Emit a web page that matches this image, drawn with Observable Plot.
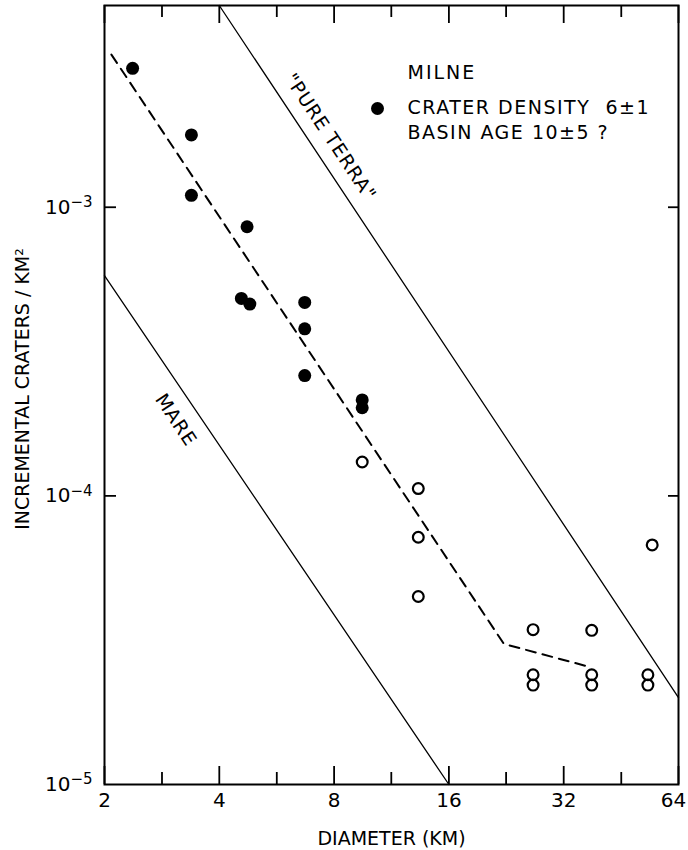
<!DOCTYPE html>
<html>
<head>
<meta charset="utf-8">
<script src="https://cdn.jsdelivr.net/npm/d3@7"></script>
<script src="https://cdn.jsdelivr.net/npm/@observablehq/plot@0.6"></script>
<style>
  body { margin: 0; background: #fff; }
</style>
</head>
<body>
<div id="chart"></div>
<script>
// ---- tick values & labels ----
const xMajorTicks = [2, 4, 8, 16, 32, 64];
const xMinorTicks = [2.83, 5.66, 11.3, 22.6, 45.3];
const yTicks = [1e-3, 1e-4, 1e-5];
const yTickBase = "10";
const yTickExponents = ["\u22123", "\u22124", "\u22125"];

// ---- Milne crater counts (filled: counted, open: larger craters) ----
const filledDiameter = [2.37, 3.38, 3.38, 4.73, 4.57, 4.81, 6.70, 6.70, 6.70, 9.48, 9.48];
const filledDensity  = [3.03e-3, 1.78e-3, 1.10e-3, 8.56e-4, 4.83e-4, 4.62e-4, 4.68e-4, 3.79e-4, 2.61e-4, 2.15e-4, 2.02e-4];
const openDiameter = [9.48, 13.3, 13.3, 13.3, 26.6, 26.6, 26.6, 37.9, 37.9, 37.9, 53.2, 53.2, 54.6];
const openDensity  = [1.31e-4, 1.06e-4, 7.19e-5, 4.48e-5, 3.44e-5, 2.40e-5, 2.21e-5, 3.42e-5, 2.40e-5, 2.21e-5, 2.40e-5, 2.21e-5, 6.76e-5];

// ---- dashed fit ----
const fitDiameter = [2.085, 22.3, 37.2];
const fitDensity  = [3.38e-3, 3.07e-5, 2.56e-5];

// ---- reference curves ----
const pureTerraDiameter = [4, 64];
const pureTerraDensity  = [5e-3, 2e-5];
const mareDiameter = [2, 16];
const mareDensity  = [5.8e-4, 1e-5];

// ---- text ----
const xLabel = "DIAMETER (KM)";
const yLabel = "INCREMENTAL CRATERS / KM\u00B2";
const pureTerraLabel = "\"PURE TERRA\"";
const mareLabel = "MARE";
const legendTitle = "MILNE";
const legendLine1 = "CRATER DENSITY\u00A0\u00A06\u00B11";
const legendLine2 = "BASIN AGE 10\u00B15 ?";

const zip = (xs, ys) => xs.map((d, i) => ({d, n: ys[i]}));
const filled = zip(filledDiameter, filledDensity);
const open = zip(openDiameter, openDensity);
const fit = zip(fitDiameter, fitDensity);
const pureTerra = zip(pureTerraDiameter, pureTerraDensity);
const mare = zip(mareDiameter, mareDensity);
const yKey = t => `y-tick-${yTicks.indexOf(t)}`;

const W = 688, H = 850, ML = 104, MR = 10, MT = 5, MB = 66;
const FH = H - MT - MB, FW = W - ML - MR;
const angle = 56.3;

const chart = Plot.plot({
  width: W, height: H,
  marginLeft: ML, marginRight: MR, marginTop: MT, marginBottom: MB,
  style: {fontFamily: "DejaVu Sans", background: "white", color: "black"},
  x: {type: "log", base: 2, domain: [2, 64]},
  y: {type: "log", domain: [1e-5, 5e-3]},
  marks: [
    // inward ticks
    Plot.ruleX(xMajorTicks, {x: d => d, insetTop: FH - 18, strokeWidth: 1.8}),
    Plot.ruleX(xMinorTicks, {x: d => d, insetTop: FH - 12, strokeWidth: 1.8}),
    Plot.ruleX(xMajorTicks, {x: d => d, insetBottom: FH - 18, strokeWidth: 1.8}),
    Plot.ruleX(xMinorTicks, {x: d => d, insetBottom: FH - 12, strokeWidth: 1.8}),
    Plot.ruleY(yTicks.slice(0, 2), {y: d => d, insetRight: FW - 12, strokeWidth: 1.8}),
    Plot.ruleY(yTicks.slice(0, 2), {y: d => d, insetLeft: FW - 10, strokeWidth: 1.8}),
    Plot.frame({strokeWidth: 2}),
    // tick labels
    Plot.axisX(xMajorTicks, {tickSize: 0, tickPadding: 8, fontSize: 20, label: null, tickFormat: d => `${d}`}),
    Plot.axisY(yTicks, {tickSize: 0, tickPadding: 12, fontSize: 20, label: null, tickFormat: yKey}),
    // reference lines
    Plot.line(pureTerra, {x: "d", y: "n", strokeWidth: 1.3}),
    Plot.line(mare, {x: "d", y: "n", strokeWidth: 1.3}),
    Plot.line(fit, {x: "d", y: "n", strokeWidth: 2, strokeDasharray: "10,7"}),
    // points
    Plot.dot(filled, {x: "d", y: "n", r: 6.5, fill: "black", stroke: "none"}),
    Plot.dot(open, {x: "d", y: "n", r: 5.4, fill: "none", stroke: "black", strokeWidth: 2.2}),
    // line labels
    Plot.text([pureTerraLabel], {x: () => 7.1, y: () => 1.6e-3, text: d => d, rotate: angle, dx: 16, dy: -11, fontSize: 19}),
    Plot.text([mareLabel], {x: () => 3.47, y: () => 2.03e-4, text: d => d, rotate: angle, dx: -20, dy: 13, fontSize: 19}),
    // axis titles
    Plot.text([xLabel], {frameAnchor: "bottom", text: d => d, textAnchor: "middle", lineAnchor: "middle", dy: 54, fontSize: 19}),
    Plot.text([yLabel], {frameAnchor: "left", text: d => d, textAnchor: "middle", lineAnchor: "middle", rotate: -90, dx: -82, dy: -6, fontSize: 19}),
    // legend
    Plot.text([legendTitle], {frameAnchor: "top-left", text: d => d, textAnchor: "start", lineAnchor: "middle", dx: 303, dy: 67, fontSize: 19}),
    Plot.dot([legendLine1], {frameAnchor: "top-left", dx: 273, dy: 103, r: 6.5, fill: "black", stroke: "none"}),
    Plot.text([legendLine1], {frameAnchor: "top-left", text: d => d, textAnchor: "start", lineAnchor: "middle", dx: 303, dy: 102, fontSize: 19}),
    Plot.text([legendLine2], {frameAnchor: "top-left", text: d => d, textAnchor: "start", lineAnchor: "middle", dx: 303, dy: 127, fontSize: 19})
  ]
});

// letter spacing for the hand-lettered labels
const spaced = new Map([[legendTitle, 2], [legendLine1, 1.5], [legendLine2, 1.5], [pureTerraLabel, 1], [mareLabel, 1]]);
d3.select(chart).selectAll("text").each(function() {
  const content = this.textContent;
  const ls = spaced.get(content);
  if (ls) this.setAttribute("letter-spacing", ls);
  // y tick labels: 10 with a raised exponent
  const m = /^y-tick-(\d+)$/.exec(content);
  if (m) {
    const i = +m[1];
    const t = d3.select(this);
    t.text(null);
    t.append("tspan").text(yTickBase);
    t.append("tspan").attr("font-size", 15).attr("dy", "-0.45em").text(yTickExponents[i]);
  }
  if (content === "64") this.setAttribute("dx", -5);
});

document.getElementById("chart").appendChild(chart);
</script>
</body>
</html>
